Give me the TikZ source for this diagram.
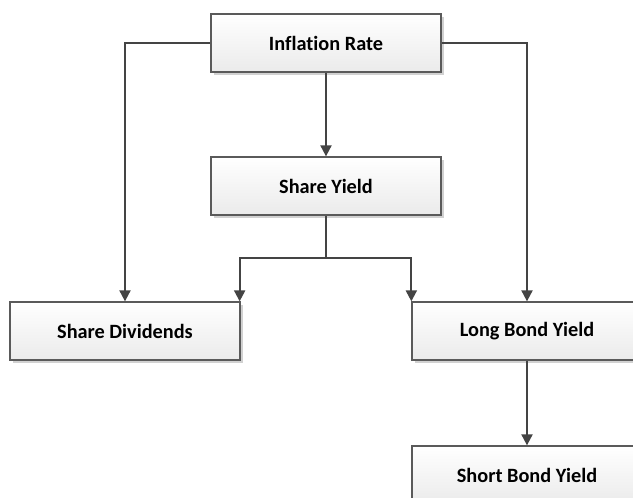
\documentclass[tikz,border=0pt]{standalone}
\usepackage{fontspec}
\setmainfont{Carlito}[Ligatures=NoCommon]
\usetikzlibrary{arrows.meta,shadows}
\definecolor{linecol}{HTML}{444444}
\definecolor{boxline}{HTML}{5A5A5A}
\tikzset{
  box/.style={draw=boxline, line width=1.3pt, top color=white, bottom color=black!8,
    minimum width=230pt, minimum height=58pt, inner sep=0pt,
    font=\fontsize{20.3}{24}\selectfont\bfseries,
    copy shadow={shadow xshift=3pt, shadow yshift=-3pt, fill=black!18, draw=none}},
  conn/.style={draw=linecol, line width=2pt, -{Triangle[length=11pt,width=11pt]}},
  plain/.style={draw=linecol, line width=2pt}
}
\begin{document}
\begin{tikzpicture}[x=1pt,y=-1pt]
\clip (0,0) rectangle (633,498);
\fill[white] (0,0) rectangle (633,498);
\node[box] (ir) at (326,43) {Inflation Rate};
\node[box] (sy) at (326,186) {Share Yield};
\node[box] (sd) at (125,331) {Share Dividends};
\node[box] (lb) at (527,331) {Long Bond Yield};
\node[box] (sb) at (527,475) {Short Bond Yield};
\coordinate (split) at (326,258);
\draw[conn] (ir.south) -- (sy.north);
\draw[conn] (ir.west) -| (sd.north);
\draw[conn] (ir.east) -| (lb.north);
\draw[plain] (sy.south) -- (split);
\draw[conn] (split) -| ([xshift=-1pt]sd.north east);
\draw[conn] (split) -| (lb.north west);
\draw[conn] (lb.south) -- (sb.north);
\end{tikzpicture}
\end{document}
